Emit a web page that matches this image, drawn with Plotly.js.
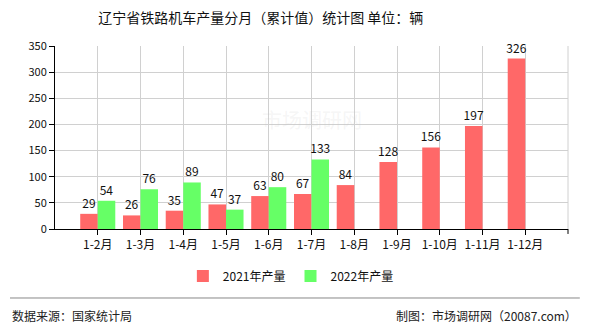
<!DOCTYPE html>
<html><head><meta charset="utf-8">
<script src="https://cdn.plot.ly/plotly-3.0.1.min.js"></script>
<style>html,body{margin:0;padding:0;background:#fff;}#chart{width:590px;height:330px;}</style>
</head><body><div id="chart"></div>
<script>
const categories = ["1-2月","1-3月","1-4月","1-5月","1-6月","1-7月","1-8月","1-9月","1-10月","1-11月","1-12月"];
const values2021 = [29,26,35,47,63,67,84,128,156,197,326];
const values2022 = [54,76,89,37,80,133,null,null,null,null,null];
const seriesNames = ["2021年产量","2022年产量"];
const yTicks = [0,50,100,150,200,250,300,350];

const font = '"Noto Sans CJK SC", "DejaVu Sans", sans-serif';
const traces = [
  {type:'bar', name:seriesNames[0], x:categories, y:values2021, marker:{color:'rgb(255,104,104)'},
   text:values2021.map(v=>v==null?'':String(v)), textposition:'outside', cliponaxis:false, constraintext:'none',
   textfont:{size:12,color:'#111',family:font}, hoverinfo:'none'},
  {type:'bar', name:seriesNames[1], x:categories, y:values2022, marker:{color:'rgb(102,255,102)'},
   text:values2022.map(v=>v==null?'':String(v)), textposition:'outside', cliponaxis:false, constraintext:'none',
   textfont:{size:12,color:'#111',family:font}, hoverinfo:'none'}
];
const layout = {
  width:590, height:330,
  margin:{l:55, r:22, t:46, b:101},
  paper_bgcolor:'#fff', plot_bgcolor:'#fff',
  font:{family:font, size:11, color:'#111'},
  title:{text:'辽宁省铁路机车产量分月（累计值）统计图 单位：辆', x:0.442, xanchor:'center', y:0.945, yanchor:'middle',
         font:{size:14, color:'#111', family:font}},
  barmode:'group', bargap:0.18, bargroupgap:0,
  xaxis:{type:'category', range:[-1,11], tickvals:categories, showgrid:true, gridcolor:'#d0d0d0', gridwidth:1,
         showline:true, linecolor:'#000', linewidth:1, ticks:'outside', ticklen:5, tickcolor:'#000',
         tickfont:{size:12, family:font, color:'#111'}, zeroline:false, fixedrange:true, mirror:false},
  yaxis:{range:[0,350], tickvals:yTicks, showgrid:true, gridcolor:'#d0d0d0', gridwidth:1,
         showline:true, linecolor:'#000', linewidth:1, ticks:'outside', ticklen:5, tickcolor:'#000',
         tickfont:{size:11, family:font, color:'#111'}, zeroline:false},
  showlegend:true,
  legend:{orientation:'h', xref:'container', yref:'container', x:0.493, xanchor:'center', y:0.1636, yanchor:'middle',
          font:{size:12, family:font, color:'#111'}, itemwidth:30, traceorder:'normal'},
  shapes:[
    {type:'line', xref:'paper', yref:'paper', x0:-0.0877, x1:1.023, y0:-0.377, y1:-0.377, line:{color:'#888', width:1}},
    {type:'line', xref:'paper', yref:'paper', x0:1, x1:1, y0:0, y1:1, line:{color:'#d0d0d0', width:1}},
    {type:'line', xref:'paper', yref:'paper', x0:1, x1:1, y0:0, y1:-0.027, line:{color:'#000', width:1}}
  ],
  annotations:[
    {text:'数据来源：国家统计局', xref:'paper', yref:'paper', x:-0.088, xanchor:'left', y:-0.475, yanchor:'middle', showarrow:false,
     font:{size:12, family:font, color:'#222'}},
    {text:'制图：市场调研网（20087.com）', xref:'paper', yref:'paper', x:1.021, xanchor:'right', y:-0.475, yanchor:'middle', showarrow:false,
     font:{size:12, family:font, color:'#222'}},
    {text:'市场调研网', xref:'paper', yref:'paper', x:0.5, xanchor:'center', y:0.6, yanchor:'middle', showarrow:false,
     font:{size:20, family:font, color:'rgba(200,200,200,0.18)'}}
  ]
};
Plotly.newPlot('chart', traces, layout, {displayModeBar:false, staticPlot:true});
</script></body></html>
